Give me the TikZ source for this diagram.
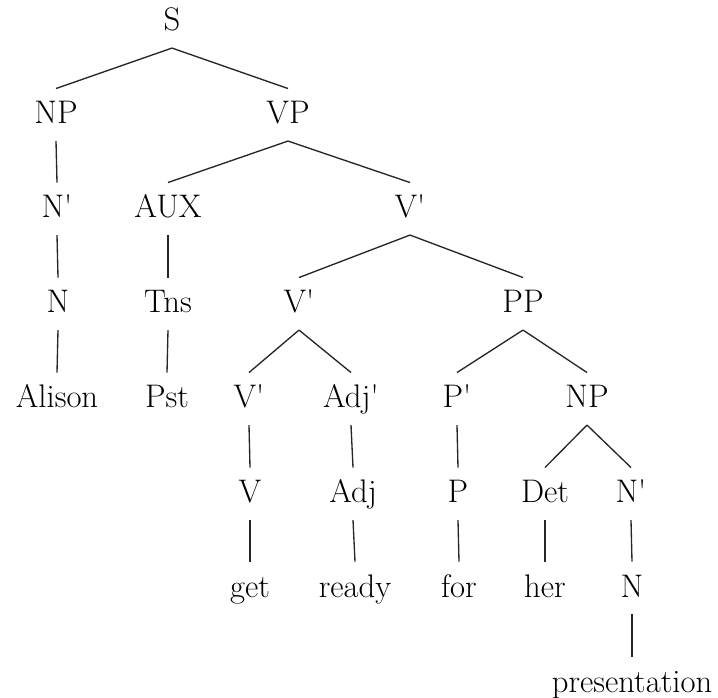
\documentclass[tikz,border=0pt]{standalone}
\usepackage{tikz}
\usetikzlibrary{positioning}

\newcommand{\br}{\textquotesingle}

\begin{document}
\begin{tikzpicture}[
    x=0.75pt, y=-0.75pt,
    cat/.style={inner sep=0pt, anchor=base, text height=26.4pt, text depth=12.6pt, font=\fontsize{24.5}{29}\selectfont},
    branch/.style={line width=1pt, draw=black!85}
]
    \useasboundingbox (0,0) rectangle (718,698);

    % categories, one row per level
    \node[cat] (s)     at (172,31)  {S};
    \node[cat] (np)    at (56,124)  {NP};
    \node[cat] (vp)    at (288,124) {VP};
    \node[cat] (nbar)  at (57,218)  {N\br};
    \node[cat] (aux)   at (168,218) {AUX};
    \node[cat] (vbar)  at (410,218) {V\br};
    \node[cat] (n)     at (58,313)  {N};
    \node[cat] (tns)   at (168,313) {Tns};
    \node[cat] (vbarb) at (299,313) {V\br};
    \node[cat] (pp)    at (523,313) {PP};
    \node[cat] (vbarc) at (249,408) {V\br};
    \node[cat] (adjb)  at (351,408) {Adj\br};
    \node[cat] (pbar)  at (457,408) {P\br};
    \node[cat] (npb)   at (587,408) {NP};
    \node[cat] (v)     at (250,503) {V};
    \node[cat] (adj)   at (353,503) {Adj};
    \node[cat] (p)     at (458,503) {P};
    \node[cat] (det)   at (545,503) {Det};
    \node[cat] (nbarb) at (631,503) {N\br};
    \node[cat] (nb)    at (632,597) {N};

    % words
    \node[cat] (alison) at (57,408)  {Alison};
    \node[cat] (pst)    at (167,408) {Pst};
    \node[cat] (get)    at (250,597) {get};
    \node[cat] (ready)  at (355,597) {ready};
    \node[cat] (for)    at (459,597) {for};
    \node[cat] (her)    at (545,597) {her};
    \node[cat] (pres)   at (632,692) {presentation};

    % branches
    \draw[branch] (s.south) -- (np.north);
    \draw[branch] (s.south) -- (vp.north);
    \draw[branch] (np.south) -- (nbar.north);
    \draw[branch] (nbar.south) -- (n.north);
    \draw[branch] (n.south) -- (alison.north);
    \draw[branch] (vp.south) -- (aux.north);
    \draw[branch] (vp.south) -- (vbar.north);
    \draw[branch] (aux.south) -- (tns.north);
    \draw[branch] (tns.south) -- (pst.north);
    \draw[branch] (vbar.south) -- (vbarb.north);
    \draw[branch] (vbar.south) -- (pp.north);
    \draw[branch] (vbarb.south) -- (vbarc.north);
    \draw[branch] (vbarb.south) -- (adjb.north);
    \draw[branch] (vbarc.south) -- (v.north);
    \draw[branch] (v.south) -- (get.north);
    \draw[branch] (adjb.south) -- (adj.north);
    \draw[branch] (adj.south) -- (ready.north);
    \draw[branch] (pp.south) -- (pbar.north);
    \draw[branch] (pp.south) -- (npb.north);
    \draw[branch] (pbar.south) -- (p.north);
    \draw[branch] (p.south) -- (for.north);
    \draw[branch] (npb.south) -- (det.north);
    \draw[branch] (npb.south) -- (nbarb.north);
    \draw[branch] (det.south) -- (her.north);
    \draw[branch] (nbarb.south) -- (nb.north);
    \draw[branch] (nb.south) -- (pres.north);
\end{tikzpicture}
\end{document}
